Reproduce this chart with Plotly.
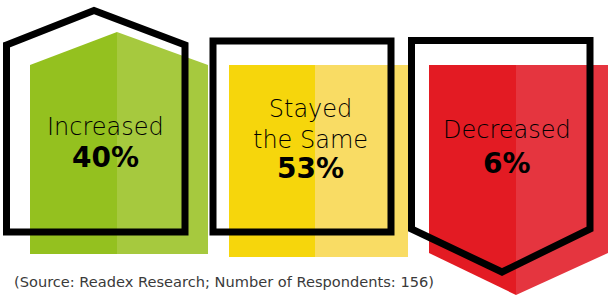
import plotly.graph_objects as go

# ---- data ----
categories = ["Increased", "Stayed<br>the Same", "Decreased"]
values = [40, 53, 6]
source_note = "(Source: Readex Research; Number of Respondents: 156)"

# ---- styles / geometry (pixel space, y down) ----
dark_cols = ["#94c11f", "#f6d60c", "#e31b23"]
light_cols = ["#a6c93e", "#f9dc64", "#e5353f"]

# fill polygons: each split into left/right halves
fill_left = [
    [(30, 65), (117, 32), (117, 254), (30, 254)],
    [(229, 65), (315, 65), (315, 257), (229, 257)],
    [(429, 65), (516, 65), (516, 295), (429, 253)],
]
fill_right = [
    [(117, 32), (208, 65), (208, 254), (117, 254)],
    [(315, 65), (408, 65), (408, 257), (315, 257)],
    [(516, 65), (608, 65), (608, 253), (516, 295)],
]
outlines = [
    [(6.5, 45), (94, 10.5), (185, 45), (185, 232), (6.5, 232)],
    [(213, 41), (391, 41), (391, 232), (213, 232)],
    [(411.5, 40.5), (590, 40.5), (590, 229), (502, 272), (411.5, 229)],
]
label_pos = [(105, 127), (310, 124), (507, 130)]
value_pos = [(105, 157), (310, 168), (507, 163)]


def path(pts):
    return "M " + " L ".join(f"{x},{y}" for x, y in pts) + " Z"


fig = go.Figure()
fig.add_trace(go.Scatter(x=[0, 612], y=[0, 296], mode="markers",
                         marker=dict(opacity=0), hoverinfo="skip", showlegend=False))

shapes = []
for i in range(3):
    shapes.append(dict(type="path", path=path(fill_left[i]), xref="x", yref="y",
                       fillcolor=dark_cols[i], line=dict(width=0), layer="above"))
    shapes.append(dict(type="path", path=path(fill_right[i]), xref="x", yref="y",
                       fillcolor=light_cols[i], line=dict(width=0), layer="above"))
for i in range(3):
    shapes.append(dict(type="path", path=path(outlines[i]), xref="x", yref="y",
                       line=dict(color="#000000", width=7), fillcolor="rgba(0,0,0,0)",
                       layer="above"))

annotations = []
for i in range(3):
    annotations.append(dict(x=label_pos[i][0], y=label_pos[i][1], xref="x", yref="y",
                            text=categories[i], showarrow=False,
                            font=dict(family="DejaVu Sans", size=24, color="#000000", weight=200),
                            yanchor="middle", align="center", xanchor="center"))
    annotations.append(dict(x=value_pos[i][0], y=value_pos[i][1], xref="x", yref="y",
                            text=f"{values[i]}%", showarrow=False,
                            font=dict(family="DejaVu Sans", size=28, color="#000000", weight=700),
                            xanchor="center", yanchor="middle"))
annotations.append(dict(x=12, y=281, xref="x", yref="y", text=source_note, showarrow=False,
                        xanchor="left", yanchor="middle",
                        font=dict(family="DejaVu Sans", size=14.6, color="#3a3a3a")))

fig.update_layout(
    width=612, height=296, margin=dict(l=0, r=0, t=0, b=0),
    paper_bgcolor="white", plot_bgcolor="white",
    xaxis=dict(range=[0, 612], visible=False, fixedrange=True),
    yaxis=dict(range=[296, 0], visible=False, fixedrange=True),
    shapes=shapes, annotations=annotations, showlegend=False,
)
fig.write_html("out.html", config={"displayModeBar": False},
               post_script="document.body.style.margin='0';document.body.style.overflow='hidden';")
